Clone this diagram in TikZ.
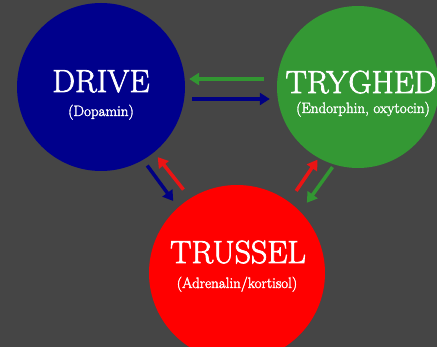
\documentclass[tikz,border=0pt]{standalone}
\usepackage{fontspec}
\usetikzlibrary{arrows.meta}
\newfontfamily\heavyrm{Latin Modern Roman}[FakeBold=2.2]
\definecolor{bgcol}{RGB}{69,69,69}
\definecolor{drivecol}{RGB}{0,0,140}
\definecolor{trygcol}{RGB}{52,152,52}
\definecolor{trusscol}{RGB}{255,0,0}
\definecolor{arrblue}{RGB}{0,0,130}
\definecolor{arrgreen}{RGB}{50,150,50}
\definecolor{arrred}{RGB}{235,20,20}
\tikzset{
  blob/.style={circle, inner sep=0pt},
  title/.style={anchor=base, text=white, font=\heavyrm\fontsize{32}{36}\selectfont},
  sub/.style={anchor=base, text=white, font=\heavyrm\fontsize{15}{18}\selectfont},
  flow/.style={line width=3.5pt, -{Triangle[length=10pt,width=12pt]}},
}
\begin{document}
\begin{tikzpicture}[x=1pt,y=-1pt]
    % Background
    \useasboundingbox (0,0) rectangle (437,347);
    \clip (0,0) rectangle (437,347);
    \fill[bgcol] (0,0) rectangle (437,347);

    % Circles
    \node[blob, fill=drivecol, minimum size=168pt] (drive) at (101,87) {};
    \node[blob, fill=trygcol, minimum size=162pt] (tryghed) at (358,87) {};
    \node[blob, fill=trusscol, minimum size=176pt] (trussel) at (237,273) {};

    % Labels
    \node[title] (drivename) at (101,92) {DRIVE};
    \node[sub] (drivesub) at (101,116) {(Dopamin)};
    \node[title] (trygname) at (361,93) {TRYGHED};
    \node[sub] (trygsub) at (363,113) {(Endorphin, oxytocin)};
    \node[title] (trussname) at (238,263) {TRUSSEL};
    \node[sub] (trusssub) at (237,288) {(Adrenalin/kortisol)};

    % Arrows between drive and tryghed
    \draw[flow, arrgreen, shorten <=13pt, shorten >=4pt]
        ([yshift=8pt]tryghed.west) -- ([yshift=8pt]drive.east);
    \draw[flow, arrblue, shorten <=7pt, shorten >=7pt]
        ([yshift=-12pt]drive.east) -- ([yshift=-12pt]tryghed.west);

    % Arrows to and from trussel
    \draw[flow, arrblue, shorten <=7pt, shorten >=8pt] (drive.-60) -- (trussel.132);
    \draw[flow, arrred, shorten <=11pt, shorten >=6pt] (trussel.122) -- (drive.-51);
    \draw[flow, arrred, shorten <=13pt, shorten >=2pt] (trussel.54) -- (tryghed.-119);
    \draw[flow, arrgreen, shorten <=3pt, shorten >=11pt] (tryghed.-107) -- (trussel.44);
\end{tikzpicture}
\end{document}
